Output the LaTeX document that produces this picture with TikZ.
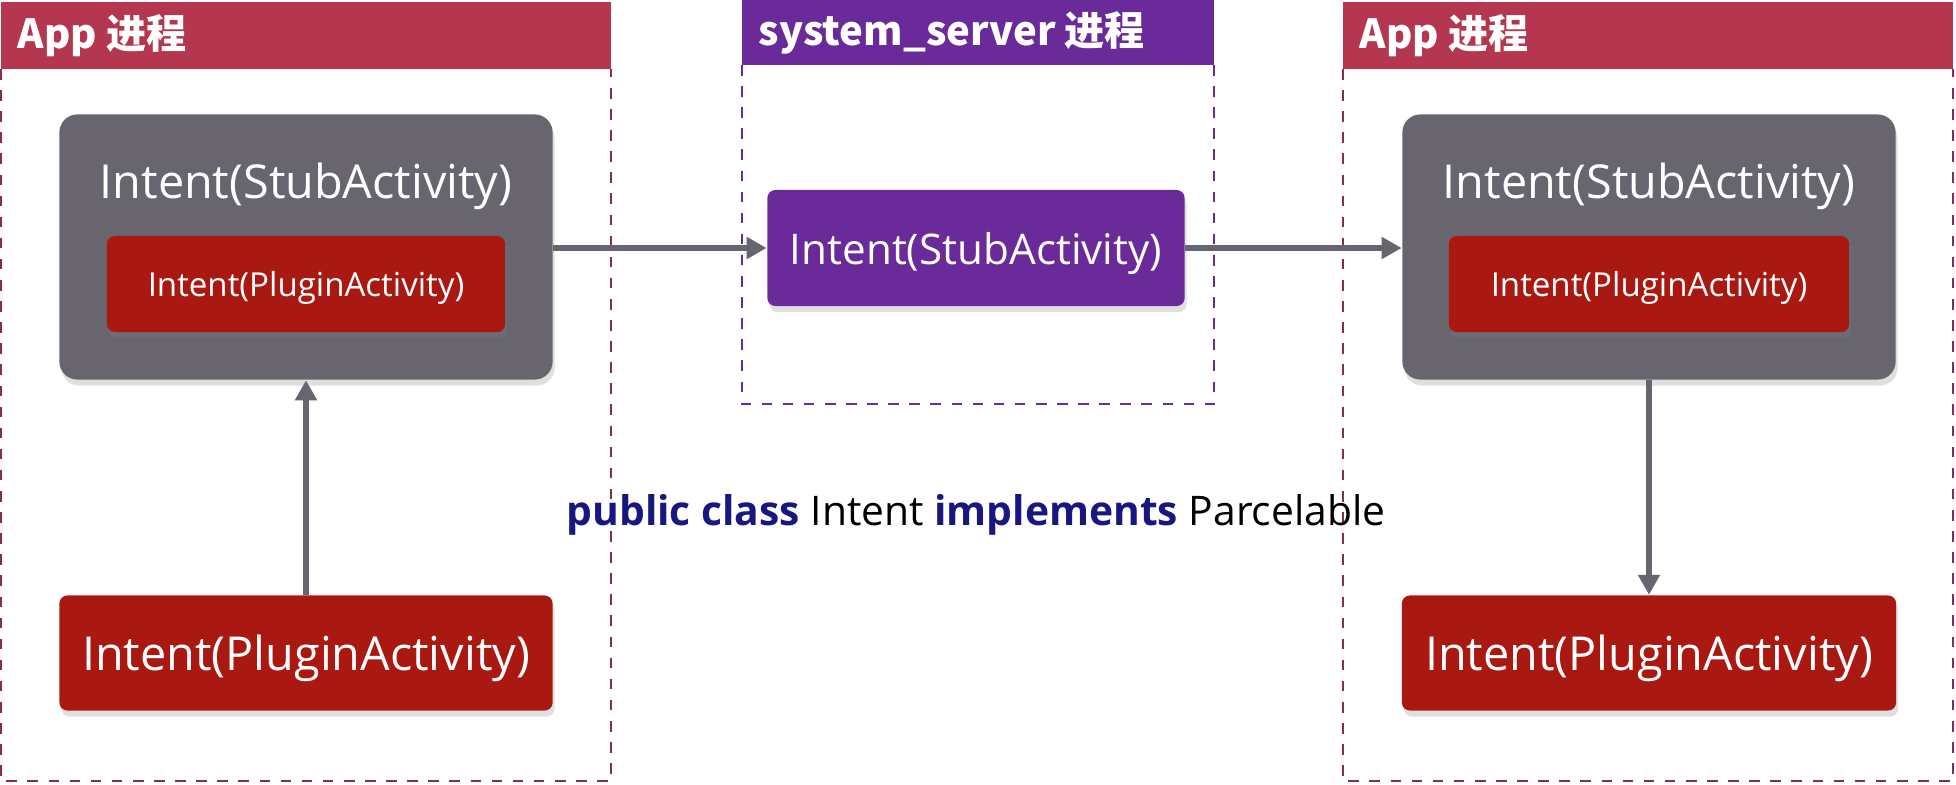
\documentclass[tikz,border=0pt]{standalone}
\usepackage{fontspec}
\setmainfont{Open Sans}
\newfontfamily\cjk{Noto Sans CJK SC}
\usepackage{tikz}
\usetikzlibrary{arrows.meta, positioning, shadows}
\definecolor{appred}{HTML}{B5374F}
\definecolor{appline}{HTML}{8E2A45}
\definecolor{srvpurple}{HTML}{6A2A9A}
\definecolor{stubgray}{HTML}{68656F}
\definecolor{plugred}{HTML}{AA1812}
\definecolor{arrgray}{HTML}{67656D}
\definecolor{kwblue}{HTML}{17177F}
\tikzset{
  hdr/.style   = {anchor=west, inner sep=0pt, text=white, align=left,
                  font=\cjk\bfseries\fontsize{11.4}{13}\selectfont},
  frm/.style   = {dashed, line width=0.6pt},
  stub/.style  = {fill=stubgray, rounded corners=0.18cm, minimum width=4.93cm,
                  minimum height=2.65cm,
                  drop shadow={opacity=0.25, shadow xshift=0.02cm, shadow yshift=-0.06cm}},
  plug/.style  = {fill=plugred, rounded corners=0.08cm, text=white, text depth=0pt,
                  drop shadow={opacity=0.25, shadow xshift=0.02cm, shadow yshift=-0.06cm}},
  srv/.style   = {fill=srvpurple, rounded corners=0.08cm, text=white, text depth=0pt,
                  drop shadow={opacity=0.25, shadow xshift=0.02cm, shadow yshift=-0.06cm}},
  big/.style   = {font=\fontsize{13.3}{16}\selectfont},
  fl/.style    = {-{Triangle[length=0.2cm, width=0.21cm]}, draw=arrgray, line width=1.5pt},
}
\begin{document}
\begin{tikzpicture}[x=0.01cm, y=-0.01cm]
  \useasboundingbox (0,0) rectangle (1956,784);
  % process frames
  \fill[appred] (1,2) rectangle (611,69);
  \draw[frm, appline] (1,69) -- (1,781) -- (611,781) -- (611,69);
  \node[hdr] (appL) at (17,36) {App 进程};
  \fill[srvpurple] (742,0) rectangle (1214,65);
  \draw[frm, srvpurple] (742,65) -- (742,404) -- (1214,404) -- (1214,65);
  \node[hdr] (sys) at (758,33) {system\_server 进程};
  \fill[appred] (1343,2) rectangle (1953,69);
  \draw[frm, appline] (1343,69) -- (1343,781) -- (1953,781) -- (1953,69);
  \node[hdr] (appR) at (1359,36) {App 进程};
  % left app
  \node[stub] (stubL) at (306,247) {};
  \node[big, text=white, text depth=0pt] (stubLt) at (306,181) {Intent(StubActivity)};
  \node[plug, minimum width=3.98cm, minimum height=0.96cm,
        font=\fontsize{9.4}{11}\selectfont] (inL) at (306,284) {Intent(PluginActivity)};
  \node[plug, big, minimum width=4.93cm, minimum height=1.15cm] (plugL) at (306,653) {Intent(PluginActivity)};
  % system_server
  \node[srv, minimum width=4.17cm, minimum height=1.16cm,
        font=\fontsize{12}{14}\selectfont] (srvI) at (976,248) {Intent(StubActivity)};
  % right app
  \node[stub] (stubR) at (1649,247) {};
  \node[big, text=white, text depth=0pt] (stubRt) at (1649,181) {Intent(StubActivity)};
  \node[plug, minimum width=4.00cm, minimum height=0.96cm,
        font=\fontsize{9.4}{11}\selectfont] (inR) at (1649,284) {Intent(PluginActivity)};
  \node[plug, big, minimum width=4.94cm, minimum height=1.15cm] (plugR) at (1649,653) {Intent(PluginActivity)};
  % flow
  \draw[fl] (plugL.north) -- (stubL.south);
  \draw[fl] (stubL.east |- srvI.west) -- (srvI.west);
  \draw[fl] (srvI.east) -- (stubR.west |- srvI.east);
  \draw[fl] (stubR.south) -- (plugR.north);
  \node[font=\fontsize{11.6}{14}\selectfont, text depth=0pt] (decl) at (976,510)
    {\textcolor{kwblue}{\bfseries public class} Intent \textcolor{kwblue}{\bfseries implements} Parcelable};
\end{tikzpicture}
\end{document}
